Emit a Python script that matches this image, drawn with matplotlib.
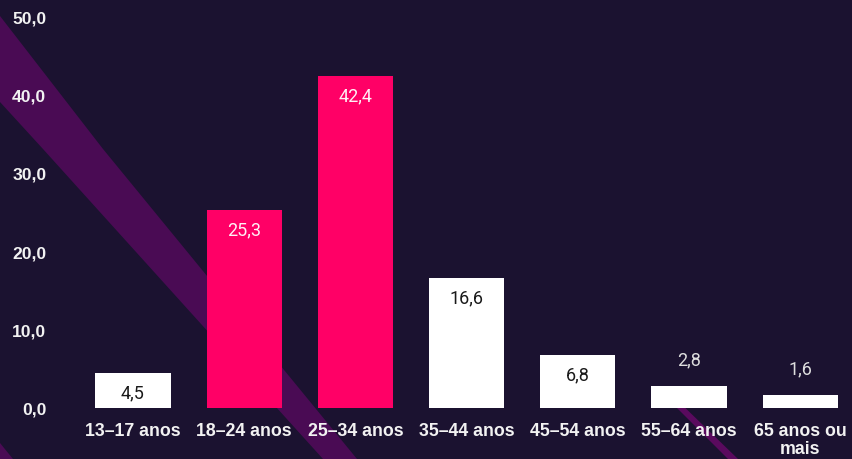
import matplotlib
matplotlib.use("Agg")
import matplotlib.pyplot as plt
from matplotlib.patches import Polygon

categories = ["13–17 anos", "18–24 anos", "25–34 anos", "35–44 anos",
              "45–54 anos", "55–64 anos", "65 anos ou\nmais"]
values = [4.5, 25.3, 42.4, 16.6, 6.8, 2.8, 1.6]
highlight = [False, True, True, False, False, False, False]
value_labels = ["4,5", "25,3", "42,4", "16,6", "6,8", "2,8", "1,6"]
y_ticks = [0, 10, 20, 30, 40, 50]
y_tick_labels = ["0,0", "10,0", "20,0", "30,0", "40,0", "50,0"]

BG = "#1b1230"
PINK = "#ff0066"
W, H = 853, 460

fig = plt.figure(figsize=(W / 100, H / 100), dpi=100, facecolor=BG)

# background axes for decorative diagonal bands (pixel coords, origin top-left)
bg = fig.add_axes([0, 0, 1, 1], zorder=0)
bg.set_xlim(0, W)
bg.set_ylim(H, 0)
bg.axis("off")
bg.add_patch(Polygon([(0, 17), (103, 150), (357, 460), (323, 460), (43, 150), (0, 103)],
                     closed=True, facecolor="#4a0b54", edgecolor="none"))
bg.add_patch(Polygon([(674, 398), (738, 460), (728, 460), (666, 398)],
                     closed=True, facecolor="#5a0a5e", edgecolor="none"))
bg.add_patch(Polygon([(0, 444), (13, 460), (0, 460)],
                     closed=True, facecolor="#4a0b54", edgecolor="none"))

left_px, right_px = 77.4, 853
top_px, bottom_px = 17, 409
ax = fig.add_axes([left_px / W, 1 - bottom_px / H,
                   (right_px - left_px) / W, (bottom_px - top_px) / H], zorder=1)
ax.patch.set_alpha(0)

x = list(range(len(categories)))
colors = [PINK if h else "#ffffff" for h in highlight]
ax.bar(x, values, width=0.675, color=colors, zorder=2)

ax.set_xlim(-0.5, 6.475)
ax.set_ylim(0, 50)

for xi, v, lab, h in zip(x, values, value_labels, highlight):
    if v >= 4:
        ax.annotate(lab, (xi, v), xytext=(0, -14), textcoords="offset points",
                    ha="center", va="center", fontsize=13, family="Roboto",
                    color="#fff0f5" if h else "#1a1a1a", zorder=3)
    else:
        ax.annotate(lab, (xi, v), xytext=(0, 19.4), textcoords="offset points",
                    ha="center", va="center", fontsize=13, family="Roboto",
                    color="#dedede", zorder=3)

ax.set_yticks(y_ticks)
ax.set_yticklabels(y_tick_labels, family="Liberation Sans", fontweight="bold",
                   fontsize=12.6, color="#f2f2f2")
ax.set_xticks(x)
ax.set_xticklabels(categories, family="Liberation Sans", fontweight="bold",
                   fontsize=12.8, color="#f2f2f2", linespacing=1.05)
ax.tick_params(axis="y", length=0, pad=22.4)
ax.tick_params(axis="x", length=0, pad=10)
for s in ax.spines.values():
    s.set_visible(False)

fig.savefig("out.png", dpi=100, facecolor=BG)
